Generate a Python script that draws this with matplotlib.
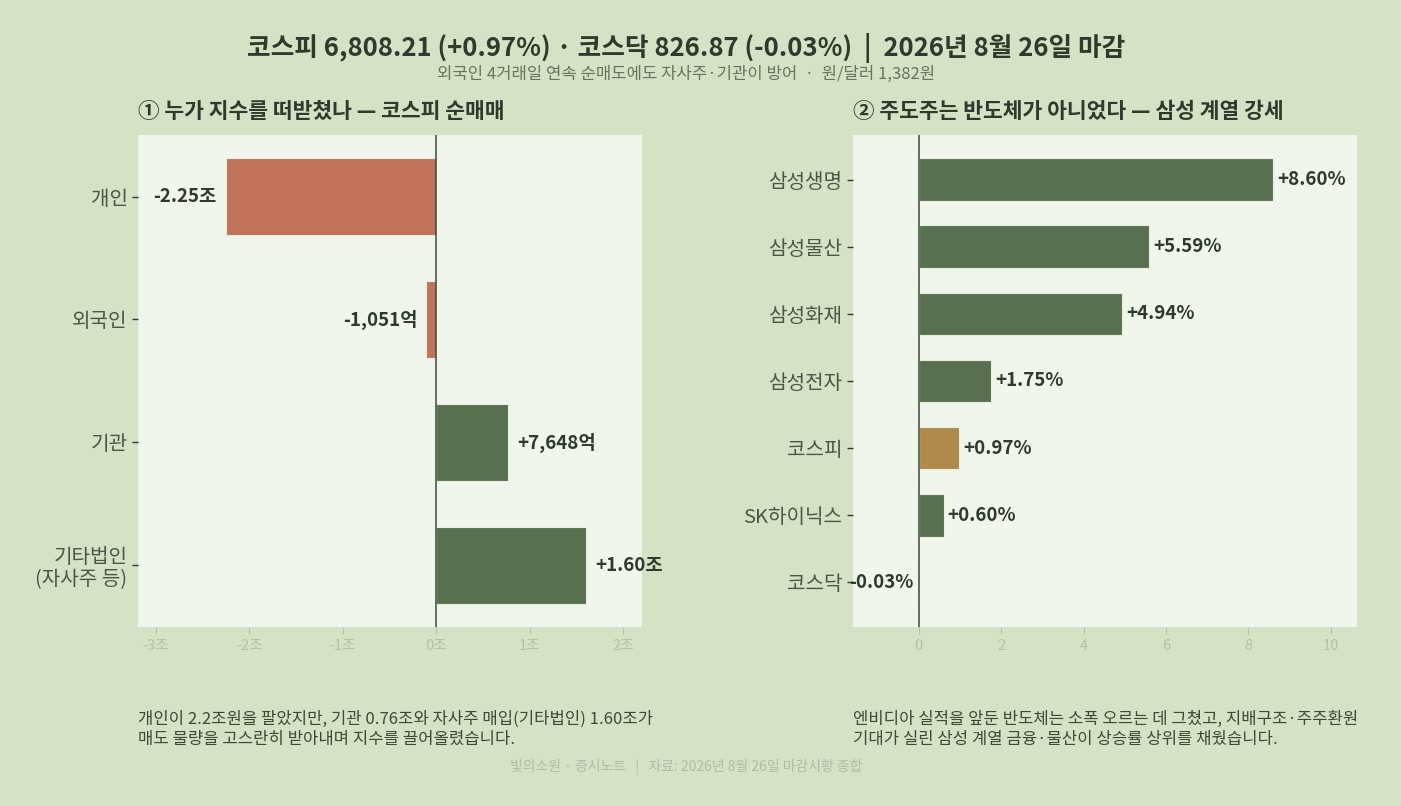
import matplotlib
matplotlib.use('Agg')
import matplotlib.pyplot as plt

plt.rcParams['font.family'] = ['Noto Sans CJK KR', 'DejaVu Sans']

# left panel: KOSPI net buying by investor (unit: 조원)
investors = ['개인', '외국인', '기관', '기타법인\n(자사주 등)']
net_buy = [-2.25, -0.1051, 0.7648, 1.60]
net_labels = ['-2.25조', '-1,051억', '+7,648억', '+1.60조']
left_ticks = [-3, -2, -1, 0, 1, 2]
left_ticklabels = ['-3조', '-2조', '-1조', '0조', '1조', '2조']

# right panel: daily change (%)
stocks = ['삼성생명', '삼성물산', '삼성화재', '삼성전자', '코스피', 'SK하이닉스', '코스닥']
changes = [8.60, 5.59, 4.94, 1.75, 0.97, 0.60, -0.03]
right_ticks = [0, 2, 4, 6, 8, 10]

BG = '#d5e2c5'
PANEL = '#f1f6ec'
GREEN = '#587050'
RED = '#c0735a'
GOLD = '#b08a4a'
DARK = '#2f3a2c'
MID = '#4a5646'
LIGHT = '#b3c0aa'

fig = plt.figure(figsize=(14.01, 8.06), dpi=100, facecolor=BG)
ax1 = fig.add_axes([0.0985, 0.2221, 0.3597, 0.6104])
ax2 = fig.add_axes([0.6088, 0.2221, 0.3597, 0.6104])

for ax in (ax1, ax2):
    ax.set_facecolor(PANEL)
    for s in ax.spines.values():
        s.set_visible(False)
    ax.tick_params(axis='x', colors=LIGHT, labelsize=10.5, length=5, width=0.8)
    ax.tick_params(axis='y', colors=DARK, labelcolor=MID, labelsize=14.5, length=4, width=1)
    ax.axvline(0, color='#3a4a36', lw=1.1, zorder=3)

# left
y1 = list(range(len(investors)))
cols1 = [RED if v < 0 else GREEN for v in net_buy]
ax1.barh(y1, net_buy, height=0.62, color=cols1, edgecolor='#e8efe0', linewidth=0.8, zorder=2)
ax1.set_yticks(y1)
ax1.set_yticklabels(investors, linespacing=1.05)
ax1.set_ylim(3.5, -0.5)
ax1.set_xlim(-3.19, 2.2)
ax1.set_xticks(left_ticks)
ax1.set_xticklabels(left_ticklabels)
for yy, v, lab in zip(y1, net_buy, net_labels):
    if v < 0:
        ax1.text(v - 0.1, yy, lab, ha='right', va='center', fontsize=13.5, fontweight='bold', color=DARK)
    else:
        ax1.text(v + 0.1, yy, lab, ha='left', va='center', fontsize=13.5, fontweight='bold', color=DARK)

# right
y2 = list(range(len(stocks)))
cols2 = []
for name, v in zip(stocks, changes):
    if name == '코스피':
        cols2.append(GOLD)
    elif v < 0:
        cols2.append(RED)
    else:
        cols2.append(GREEN)
ax2.barh(y2, changes, height=0.64, color=cols2, edgecolor='#e8efe0', linewidth=0.8, zorder=2)
ax2.set_yticks(y2)
ax2.set_yticklabels(stocks)
ax2.set_ylim(6.67, -0.67)
ax2.set_xlim(-1.6, 10.63)
ax2.set_xticks(right_ticks)
for yy, v in zip(y2, changes):
    lab = f'{v:+.2f}%'
    if v < 0:
        ax2.text(v - 0.1, yy, lab, ha='right', va='center', fontsize=13.5, fontweight='bold',
                 color=DARK, clip_on=False, zorder=5)
    else:
        ax2.text(v + 0.1, yy, lab, ha='left', va='center', fontsize=13.5, fontweight='bold', color=DARK)

# titles
fig.text(0.49, 0.940, '코스피 6,808.21 (+0.97%) · 코스닥 826.87 (-0.03%)  |  2026년 8월 26일 마감',
         ha='center', va='center', fontsize=18.5, fontweight='bold', color='#2f3a2c')
fig.text(0.49, 0.908, '외국인 4거래일 연속 순매도에도 자사주·기관이 방어  ·  원/달러 1,382원',
         ha='center', va='center', fontsize=12, color='#66745f')
fig.text(0.0985, 0.862, '① 누가 지수를 떠받쳤나 — 코스피 순매매', ha='left', va='center',
         fontsize=15.5, fontweight='bold', color='#2f3a2c')
fig.text(0.6088, 0.862, '② 주도주는 반도체가 아니었다 — 삼성 계열 강세', ha='left', va='center',
         fontsize=15.5, fontweight='bold', color='#2f3a2c')

# footnotes
fig.text(0.0985, 0.095, '개인이 2.2조원을 팔았지만, 기관 0.76조와 자사주 매입(기타법인) 1.60조가\n'
         '매도 물량을 고스란히 받아내며 지수를 끌어올렸습니다.',
         ha='left', va='center', fontsize=12, color='#3a4a36', linespacing=1.2)
fig.text(0.6088, 0.095, '엔비디아 실적을 앞둔 반도체는 소폭 오르는 데 그쳤고, 지배구조·주주환원\n'
         '기대가 실린 삼성 계열 금융·물산이 상승률 상위를 채웠습니다.',
         ha='left', va='center', fontsize=12, color='#3a4a36', linespacing=1.2)
fig.text(0.49, 0.048, '빛의소원 · 증시노트   |   자료: 2026년 8월 26일 마감시황 종합',
         ha='center', va='center', fontsize=10, color='#aebca6')

fig.savefig('out.png', dpi=100, facecolor=BG)
